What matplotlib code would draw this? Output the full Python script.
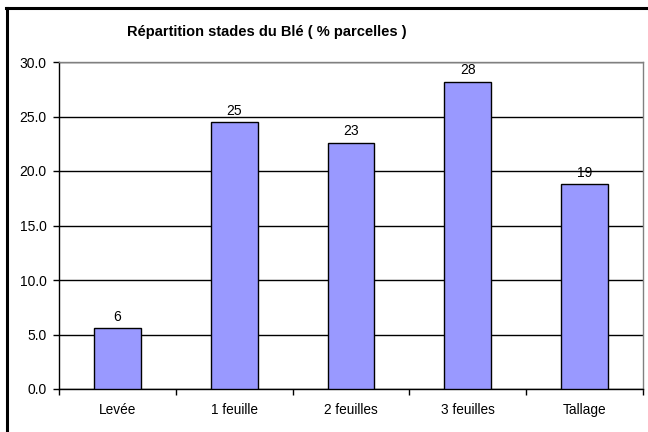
import matplotlib
matplotlib.use("Agg")
import matplotlib.pyplot as plt
from matplotlib.lines import Line2D

categories = ["Levée", "1 feuille", "2 feuilles", "3 feuilles", "Tallage"]
values = [5.6, 24.5, 22.6, 28.2, 18.8]
labels = ["6", "25", "23", "28", "19"]
yticks = [0.0, 5.0, 10.0, 15.0, 20.0, 25.0, 30.0]
title = "Répartition stades du Blé ( % parcelles )"

plt.rcParams['font.family'] = ['Liberation Sans', 'DejaVu Sans']

W, H = 648, 432
fig = plt.figure(figsize=(W / 100, H / 100), dpi=100)
ax = fig.add_axes([59 / W, (H - 389) / H, (643 - 59) / W, (389 - 62) / H])

x = list(range(len(categories)))
ax.bar(x, values, width=0.4, color="#9999FF", edgecolor="black", linewidth=1.0, zorder=3)
for xi, v, lab in zip(x, values, labels):
    ax.annotate(lab, (xi, v), xytext=(0, 3), textcoords="offset points",
                ha="center", va="bottom", fontsize=10, zorder=4)

ax.set_xlim(-0.5, len(categories) - 0.5)
ax.set_ylim(0, 30)
ax.set_yticks(yticks)
ax.set_yticklabels([f"{t:.1f}" for t in yticks], fontsize=10)
ax.set_xticks([i - 0.5 for i in range(len(categories) + 1)])
ax.set_xticklabels([])
ax.set_xticks(x, minor=True)
ax.set_xticklabels(categories, minor=True, fontsize=9.8)
ax.tick_params(axis="x", which="minor", length=0, pad=10)
ax.tick_params(axis="x", which="major", length=4, direction="out", width=1)
ax.tick_params(axis="y", length=4, direction="out", width=1, pad=5)

ax.yaxis.grid(True, color="black", linewidth=1.0, zorder=0)
ax.set_axisbelow(True)
ax.spines["left"].set_color("black")
ax.spines["bottom"].set_color("black")
ax.spines["top"].set_color("#808080")
ax.spines["right"].set_color("#808080")
for s in ax.spines.values():
    s.set_linewidth(1.0)

fig.text(267 / W, (H - 32) / H, title, ha="center", va="center",
         fontsize=10.5, fontweight="bold")

fig.add_artist(Line2D([6 / W, 1.0], [(H - 8) / H, (H - 8) / H], color="black",
                      linewidth=2.2, transform=fig.transFigure))
fig.add_artist(Line2D([7 / W, 7 / W], [0, (H - 8) / H], color="black",
                      linewidth=2.2, transform=fig.transFigure))

fig.savefig("out.png", dpi=100)
